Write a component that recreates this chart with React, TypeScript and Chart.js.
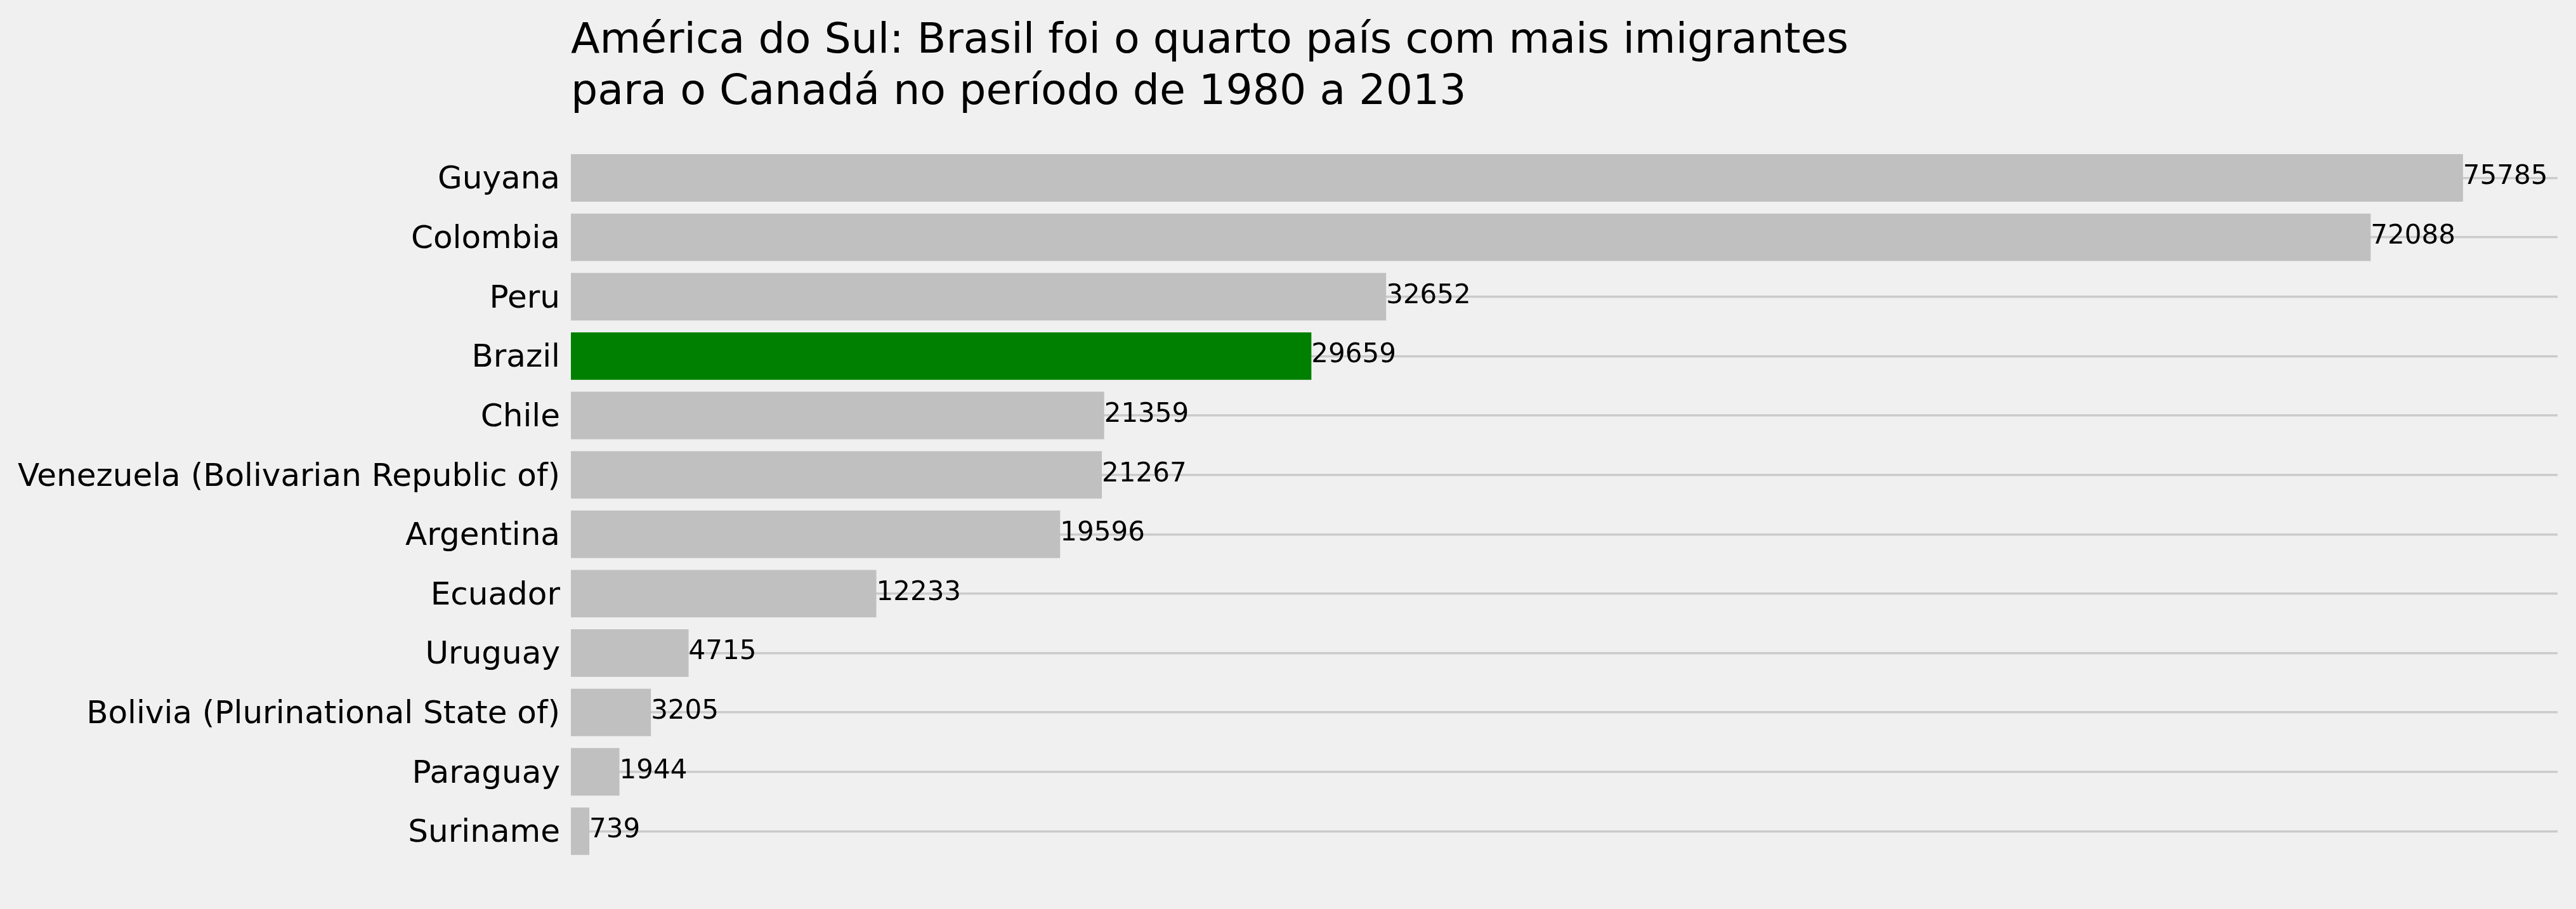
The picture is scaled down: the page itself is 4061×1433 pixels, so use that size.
import React, { useEffect, useRef } from "react";
import { Chart, registerables } from "chart.js";

Chart.register(...registerables);

const countries = [
  "Guyana",
  "Colombia",
  "Peru",
  "Brazil",
  "Chile",
  "Venezuela (Bolivarian Republic of)",
  "Argentina",
  "Ecuador",
  "Uruguay",
  "Bolivia (Plurinational State of)",
  "Paraguay",
  "Suriname",
];
const immigrants = [75785, 72088, 32652, 29659, 21359, 21267, 19596, 12233, 4715, 3205, 1944, 739];
const highlighted = "Brazil";
const titleLines = [
  "América do Sul: Brasil foi o quarto país com mais imigrantes",
  "para o Canadá no período de 1980 a 2013",
];

const W = 4061;
const H = 1433;
const FONT = "'DejaVu Sans', sans-serif";

export default function App() {
  const ref = useRef<HTMLCanvasElement | null>(null);

  useEffect(() => {
    const canvas = ref.current;
    if (!canvas) return;
    const maxVal = Math.max(...immigrants);

    const bgPlugin = {
      id: "bg",
      beforeDraw(chart: any) {
        const ctx = chart.ctx;
        ctx.save();
        ctx.fillStyle = "#f0f0f0";
        ctx.fillRect(0, 0, chart.width, chart.height);
        ctx.restore();
      },
    };

    const titlePlugin = {
      id: "leftTitle",
      afterDraw(chart: any) {
        const ctx = chart.ctx;
        ctx.save();
        ctx.fillStyle = "#000000";
        ctx.font = `66.5px ${FONT}`;
        ctx.textAlign = "left";
        ctx.textBaseline = "alphabetic";
        const x = chart.chartArea.left;
        ctx.fillText(titleLines[0], x, 83);
        ctx.fillText(titleLines[1], x, 164);
        ctx.restore();
      },
    };

    const valuePlugin = {
      id: "values",
      afterDatasetsDraw(chart: any) {
        const ctx = chart.ctx;
        const meta = chart.getDatasetMeta(0);
        ctx.save();
        ctx.fillStyle = "#000000";
        ctx.font = `42px ${FONT}`;
        ctx.textAlign = "left";
        ctx.textBaseline = "middle";
        meta.data.forEach((el: any, i: number) => {
          ctx.fillText(String(immigrants[i]), el.x, el.y - 1);
        });
        ctx.restore();
      },
    };

    const chart = new Chart(canvas, {
      type: "bar",
      data: {
        labels: countries,
        datasets: [
          {
            data: immigrants,
            backgroundColor: countries.map((c) => (c === highlighted ? "#008000" : "#c0c0c0")),
            borderWidth: 0,
            barPercentage: 0.8,
            categoryPercentage: 1.0,
          },
        ],
      },
      options: {
        indexAxis: "y",
        responsive: false,
        animation: false,
        devicePixelRatio: 1,
        layout: { padding: { left: 0, right: 29, top: 233.7, bottom: 75.8 } },
        plugins: {
          legend: { display: false },
          title: { display: false },
          tooltip: { enabled: false },
        },
        scales: {
          x: {
            type: "linear",
            min: 0,
            max: maxVal * 1.05,
            display: false,
          },
          y: {
            type: "category",
            offset: true,
            border: { display: false },
            grid: {
              offset: false,
              color: "#cbcbcb",
              lineWidth: 3.4,
              drawTicks: false,
            },
            ticks: {
              color: "#000000",
              padding: 17,
              labelOffset: 4,
              font: { family: FONT, size: 50 },
            },
            afterFit(scale: any) {
              scale.width = 900;
            },
          },
        },
      },
      plugins: [bgPlugin, titlePlugin, valuePlugin],
    } as any);

    return () => chart.destroy();
  }, []);

  return (
    <div style={{ position: "fixed", left: 0, top: 0, width: W, height: H, background: "#f0f0f0" }}>
      <canvas ref={ref} width={W} height={H} style={{ width: W, height: H, display: "block" }} />
    </div>
  );
}
